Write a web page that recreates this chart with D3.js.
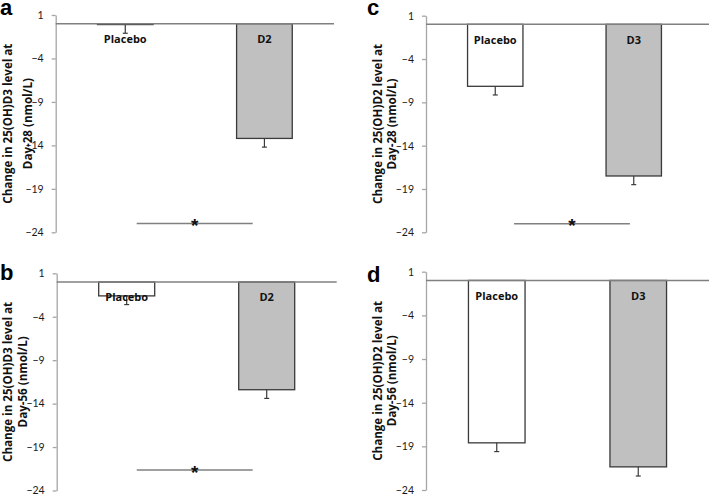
<!DOCTYPE html>
<html>
<head>
<meta charset="utf-8">
<script src="https://cdn.jsdelivr.net/npm/d3@7"></script>
<style>
  body { margin: 0; background: #fff; }
  svg { display: block; }
</style>
</head>
<body>
<div id="chart"></div>
<script>
// values
const groupsD2 = ['Placebo', 'D2'];
const groupsD3 = ['Placebo', 'D3'];
const yTicks = [1, -4, -9, -14, -19, -24];

const d3Day28 = [-0.1, -13.2];
const d3Day28Err = [1.0, 1.0];
const d3Day56 = [-1.6, -12.4];
const d3Day56Err = [1.0, 1.0];
const d2Day28 = [-7.15, -17.5];
const d2Day28Err = [1.0, 1.0];
const d2Day56 = [-18.6, -21.35];
const d2Day56Err = [1.0, 1.05];

const sigLevels = [-23, -21.65, -23, null];

const panels = [
  { letter: 'a', groups: groupsD2, values: d3Day28, errs: d3Day28Err, sig: sigLevels[0],
    label: ['Change in 25(OH)D3 level at', 'Day-28 (nmol/L)'],
    x0: 55.7, x1: 334, top: 15, bottom: 232.3, lineEnd: 334, lab1: 12, lab2: 31.5, letterY: 15, sigFrom: 0.291, sigTo: 0.708 },
  { letter: 'b', groups: groupsD2, values: d3Day56, errs: d3Day56Err, sig: sigLevels[1],
    label: ['Change in 25(OH)D3 level at', 'Day-56 (nmol/L)'],
    x0: 56.7, x1: 336.7, top: 273.3, bottom: 490.5, lineEnd: 336.7, lab1: 12, lab2: 26.5, letterY: 280, sigFrom: 0.286, sigTo: 0.70 },
  { letter: 'c', groups: groupsD3, values: d2Day28, errs: d2Day28Err, sig: sigLevels[2],
    label: ['Change in 25(OH)D2 level at', 'Day-28 (nmol/L)'],
    x0: 426, x1: 703, top: 15.7, bottom: 232.3, lineEnd: 709, lab1: 382, lab2: 396, letterY: 15, sigFrom: 0.318, sigTo: 0.736 },
  { letter: 'd', groups: groupsD3, values: d2Day56, errs: d2Day56Err, sig: sigLevels[3],
    label: ['Change in 25(OH)D2 level at', 'Day-56 (nmol/L)'],
    x0: 426, x1: 709, top: 271.7, bottom: 490, lineEnd: 709, lab1: 382, lab2: 396, letterY: 281.5, sigFrom: 0, sigTo: 0 }
];

const width = 709, height = 495;
const svg = d3.select('#chart').append('svg')
  .attr('width', width)
  .attr('height', height);

const boldFont = '"Open Sans", Lato, sans-serif';
const tickFont = 'Lato, "Open Sans", sans-serif';
const labelLengths = [160, 91];

panels.forEach((p, pi) => {
  const g = svg.append('g');
  const y = d3.scaleLinear().domain([-24, 1]).range([p.bottom, p.top]);
  const x = d3.scaleBand().domain(p.groups).range([p.x0, p.x1])
    .paddingInner(0.6).paddingOuter(0.3);
  const data = p.groups.map((k, i) => ({ name: k, value: p.values[i], err: p.errs[i] }));

  // y axis
  const ax = g.append('g')
    .attr('transform', `translate(${p.x0},0)`)
    .call(d3.axisLeft(y).tickValues(yTicks).tickSize(4).tickSizeOuter(0).tickPadding(8));
  ax.select('.domain').attr('stroke', '#a6a6a6').attr('stroke-width', 1.3);
  ax.selectAll('.tick line').attr('stroke', '#a6a6a6').attr('stroke-width', 1.3);
  ax.selectAll('.tick text')
    .attr('fill', '#1a1a1a')
    .style('font-family', tickFont)
    .style('font-size', '10.5px');

  // bars
  g.selectAll('rect.bar')
    .data(data)
    .enter()
    .append('rect')
    .attr('class', 'bar')
    .attr('x', d => x(d.name))
    .attr('y', y(0))
    .attr('width', x.bandwidth())
    .attr('height', d => y(d.value) - y(0))
    .attr('fill', (d, i) => (i === 0 ? '#ffffff' : '#c0c0c0'))
    .attr('stroke', '#3a3a3a')
    .attr('stroke-width', 1.3);

  // error bars (one-sided, downwards)
  const eb = g.selectAll('g.err')
    .data(data)
    .enter()
    .append('g')
    .attr('class', 'err');
  eb.append('line')
    .attr('x1', d => x(d.name) + x.bandwidth() / 2)
    .attr('x2', d => x(d.name) + x.bandwidth() / 2)
    .attr('y1', d => y(d.value))
    .attr('y2', d => y(d.value - d.err))
    .attr('stroke', '#3a3a3a')
    .attr('stroke-width', 1.2);
  eb.append('line')
    .attr('x1', d => x(d.name) + x.bandwidth() / 2 - 2.5)
    .attr('x2', d => x(d.name) + x.bandwidth() / 2 + 2.5)
    .attr('y1', d => y(d.value - d.err))
    .attr('y2', d => y(d.value - d.err))
    .attr('stroke', '#3a3a3a')
    .attr('stroke-width', 1.2);

  // zero line
  g.append('line')
    .attr('x1', p.x0)
    .attr('x2', p.lineEnd)
    .attr('y1', y(0))
    .attr('y2', y(0))
    .attr('stroke', '#808080')
    .attr('stroke-width', 1.5);

  // group names
  g.selectAll('text.grp')
    .data(data)
    .enter()
    .append('text')
    .attr('class', 'grp')
    .attr('x', d => x(d.name) + x.bandwidth() / 2)
    .attr('y', y(0) + 19.5)
    .attr('text-anchor', 'middle')
    .style('font-family', boldFont)
    .style('font-weight', 'bold')
    .style('font-size', '11px')
    .attr('fill', '#111')
    .text(d => d.name);

  // significance bar
  if (p.sig !== null) {
    const w = p.x1 - p.x0;
    const sx1 = p.x0 + w * p.sigFrom;
    const sx2 = p.x0 + w * p.sigTo;
    g.append('line')
      .attr('x1', sx1)
      .attr('x2', sx2)
      .attr('y1', y(p.sig))
      .attr('y2', y(p.sig))
      .attr('stroke', '#808080')
      .attr('stroke-width', 1.5);
    g.append('text')
      .attr('x', (sx1 + sx2) / 2)
      .attr('y', y(p.sig) + 8.5)
      .attr('text-anchor', 'middle')
      .style('font-family', 'Liberation Sans, Arial, sans-serif')
      .style('font-weight', 'bold')
      .style('font-size', '19px')
      .attr('fill', '#111')
      .text('*');
  }

  // y label, two lines
  const cy = (p.top + p.bottom) / 2;
  [p.lab1, p.lab2].forEach((lx, li) => {
    g.append('text')
      .attr('transform', `translate(${lx},${cy}) rotate(-90)`)
      .attr('text-anchor', 'middle')
      .attr('textLength', labelLengths[li])
      .attr('lengthAdjust', 'spacingAndGlyphs')
      .style('font-family', boldFont)
      .style('font-weight', 'bold')
      .style('font-size', '12.5px')
      .attr('fill', '#111')
      .text(p.label[li]);
  });

  // panel letter
  g.append('text')
    .attr('x', pi < 2 ? 0 : 367)
    .attr('y', p.letterY)
    .style('font-family', 'Liberation Sans, Arial, sans-serif')
    .style('font-weight', 'bold')
    .style('font-size', '22px')
    .attr('fill', '#000')
    .text(p.letter);
});
</script>
</body>
</html>
